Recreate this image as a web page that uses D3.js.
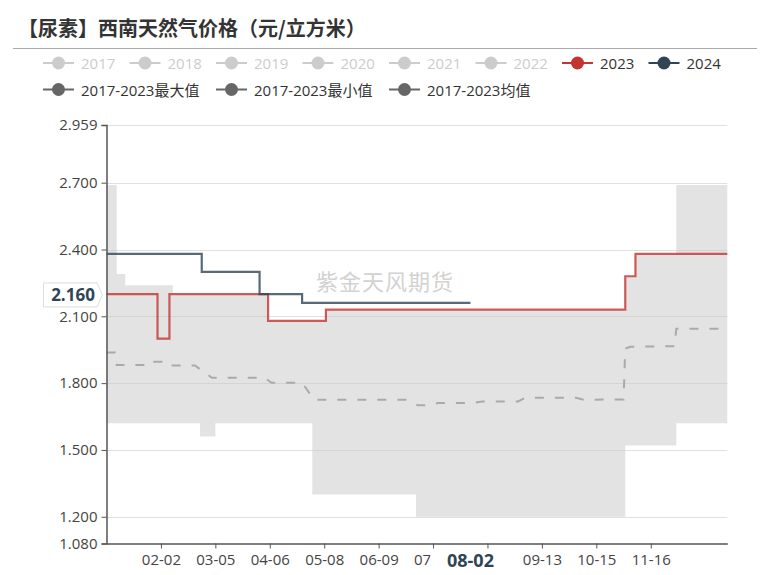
<!DOCTYPE html>
<html><head><meta charset="utf-8">
<script src="https://cdn.jsdelivr.net/npm/d3@7"></script>
<style>
body{margin:0;background:#fff;}
text{font-family:"Open Sans","Noto Sans CJK SC",sans-serif;}
</style>
</head><body>
<svg id="c" width="770" height="575"></svg>
<script>
// ---------- data ----------
const titleText = "【尿素】西南天然气价格（元/立方米）";
const watermark = "紫金天风期货";
const legendYears = ["2017","2018","2019","2020","2021","2022","2023","2024"];
const legendYearColors = ["#ccc","#ccc","#ccc","#ccc","#ccc","#ccc","#c23531","#2f4554"];
const legendStats = ["2017-2023最大值","2017-2023最小值","2017-2023均值"];
const yTicks = [1.080, 1.200, 1.500, 1.800, 2.100, 2.400, 2.700, 2.959];
const xTickLabels = ["02-02","03-05","04-06","05-08","06-09","07-11","08-12","09-13","10-15","11-16"];
const pointerX = "08-02";
const pointerY = 2.160;

// step series: [date, value] at each change point
const series2023 = [["01-01",2.20],["01-31",2.00],["02-07",2.20],["04-05",2.08],["05-09",2.13],["11-01",2.28],["11-07",2.38],["12-31",2.38]];
const series2024 = [["01-01",2.38],["02-26",2.30],["03-31",2.20],["04-25",2.16],["08-02",2.16]];
const seriesMax  = [["01-01",2.69],["01-07",2.29],["01-12",2.24],["02-09",2.20],["04-05",2.08],["05-09",2.13],["11-01",2.28],["11-07",2.38],["12-01",2.69],["12-31",2.69]];
const seriesMin  = [["01-01",1.62],["02-25",1.56],["03-05",1.62],["05-01",1.30],["07-01",1.20],["11-01",1.52],["12-01",1.62],["12-31",1.62]];
// mean line: points
const seriesMean = [["01-01",1.938],["01-06",1.938],["01-07",1.881],["01-27",1.881],["01-28",1.896],["02-04",1.896],["02-06",1.879],["02-22",1.879],["03-03",1.824],["04-03",1.824],["04-07",1.802],["04-25",1.802],["05-02",1.726],["06-25",1.725],["07-02",1.701],["07-09",1.701],["07-14",1.711],["08-04",1.711],["08-09",1.718],["08-30",1.718],["09-03",1.734],["10-03",1.734],["10-08",1.725],["10-31",1.727],["11-01",1.955],["11-04",1.963],["11-30",1.966],["12-01",2.044],["12-31",2.044]];

// categories: every day of a (leap) year, "MM-DD"
const categories = d3.timeDay.range(new Date(2024,0,1), new Date(2025,0,1)).map(d3.timeFormat("%m-%d"));

// ---------- layout ----------
const svg = d3.select("#c");
const L = 106.5, R = 727.3, T = 125, B = 543.5;
const x = d3.scalePoint().domain(categories).range([L, R]);
const y = d3.scaleLinear().domain([1.080, 2.959]).range([B, T]);

// title
svg.append("text").attr("x", 18).attr("y", 27).attr("dominant-baseline","central")
  .attr("font-size", 20).attr("font-weight", 700).attr("fill", "#333")
  .style("font-family", '"Noto Sans CJK SC", sans-serif').text(titleText);
svg.append("line").attr("x1", 13).attr("x2", 757).attr("y1", 48.5).attr("y2", 48.5)
  .attr("stroke", "#aaa").attr("stroke-width", 1);

// legend
function legendItem(x0, yc, color, label, textColor) {
  const g = svg.append("g");
  g.append("line").attr("x1", x0).attr("x2", x0 + 31).attr("y1", yc).attr("y2", yc)
    .attr("stroke", color).attr("stroke-width", 2);
  g.append("circle").attr("cx", x0 + 15.5).attr("cy", yc).attr("r", 6.5).attr("fill", color);
  g.append("text").attr("x", x0 + 38).attr("y", yc).attr("dominant-baseline", "central")
    .attr("font-size", 15).attr("fill", textColor).text(label);
}
legendYears.forEach((lab, i) => {
  const c = legendYearColors[i];
  legendItem(43 + i * 86.5, 63, c, lab, c === "#ccc" ? "#ccc" : "#333");
});
[43, 216, 389].forEach((x0, i) => legendItem(x0, 89.5, "#666", legendStats[i], "#333"));

// grid
svg.append("g").selectAll("line").data(yTicks.filter(v => v > 1.08)).join("line")
  .attr("x1", L).attr("x2", R).attr("y1", d => Math.round(y(d)) + 0.5).attr("y2", d => Math.round(y(d)) + 0.5)
  .attr("stroke", "#e0e0e0").attr("stroke-width", 1);

// watermark
svg.append("text").attr("x", 385).attr("y", 280).attr("text-anchor", "middle").attr("dominant-baseline", "central")
  .attr("font-size", 22).attr("fill", "#d2d2d2").attr("letter-spacing", 1)
  .style("font-family", '"Noto Sans CJK SC", sans-serif').text(watermark);

// band between min and max (step functions)
function stepAt(series, d) {
  const i = categories.indexOf(d);
  let v = series[0][1];
  for (const p of series) { if (categories.indexOf(p[0]) <= i) v = p[1]; }
  return v;
}
const bandDates = Array.from(new Set(seriesMax.map(p => p[0]).concat(seriesMin.map(p => p[0]))))
  .sort((a, b) => categories.indexOf(a) - categories.indexOf(b));
const band = bandDates.map(d => ({ d, hi: stepAt(seriesMax, d), lo: stepAt(seriesMin, d) }));
svg.append("path").datum(band)
  .attr("d", d3.area().curve(d3.curveStepAfter).x(p => x(p.d)).y0(p => y(p.lo)).y1(p => y(p.hi)))
  .attr("fill", "rgba(200,200,200,0.5)");

// mean dashed line
svg.append("path").datum(seriesMean)
  .attr("d", d3.line().x(p => x(p[0])).y(p => y(p[1])))
  .attr("fill", "none").attr("stroke", "#aaa").attr("stroke-width", 2).attr("stroke-dasharray", "9,11");

// year lines
const stepLine = d3.line().curve(d3.curveStepAfter).x(p => x(p[0])).y(p => y(p[1]));
svg.append("path").datum(series2023).attr("d", stepLine)
  .attr("fill", "none").attr("stroke", "#c23531").attr("stroke-opacity", 0.8).attr("stroke-width", 2.2);
svg.append("path").datum(series2024).attr("d", stepLine)
  .attr("fill", "none").attr("stroke", "#2f4554").attr("stroke-opacity", 0.8).attr("stroke-width", 2.2);

// y axis
const yAxis = svg.append("g").attr("transform", `translate(${L},0)`)
  .call(d3.axisLeft(y).tickValues(yTicks).tickFormat(d3.format(".3f")).tickSize(5).tickPadding(4));
yAxis.select(".domain").attr("stroke", "#555").attr("stroke-width", 1.5);
yAxis.selectAll(".tick line").attr("stroke", "#555");
yAxis.selectAll(".tick text").attr("font-size", 15).attr("fill", "#444")
  .style("font-family", '"Open Sans", sans-serif');

// x axis
const xAxis = svg.append("g").attr("transform", `translate(0,${B})`)
  .call(d3.axisBottom(x).tickValues(xTickLabels).tickSize(5).tickPadding(6).tickSizeOuter(0));
xAxis.select(".domain").attr("stroke", "#555").attr("stroke-width", 1.5);
xAxis.selectAll(".tick line").attr("stroke", "#555");
xAxis.selectAll(".tick text").attr("font-size", 15).attr("fill", "#444")
  .style("font-family", '"Open Sans", sans-serif');
xAxis.selectAll(".tick").filter(d => d === "08-12").select("text").remove();

// axis pointer labels
const px = x(pointerX);
const xl = svg.append("g");
xl.append("rect").attr("x", px - 40).attr("y", B + 6).attr("width", 80).attr("height", 28).attr("fill", "#fff");
xl.append("text").attr("x", px).attr("y", B + 16).attr("text-anchor", "middle").attr("dominant-baseline", "central")
  .attr("font-size", 18).attr("font-weight", 700).attr("fill", "#2f4554")
  .style("font-family", '"Open Sans", sans-serif').text(pointerX);

const py = y(pointerY) - 8;
const yl = svg.append("g");
yl.append("path")
  .attr("d", `M43.5,${py - 12} H97 L102.5,${py} L97,${py + 12} H43.5 Z`)
  .attr("fill", "#fff").attr("stroke", "#ddd").attr("stroke-width", 1);
yl.append("text").attr("x", 73).attr("y", py).attr("text-anchor", "middle").attr("dominant-baseline", "central")
  .attr("font-size", 17).attr("font-weight", 700).attr("fill", "#2f4554")
  .style("font-family", '"Open Sans", sans-serif').text(d3.format(".3f")(pointerY));
</script>
</body></html>
